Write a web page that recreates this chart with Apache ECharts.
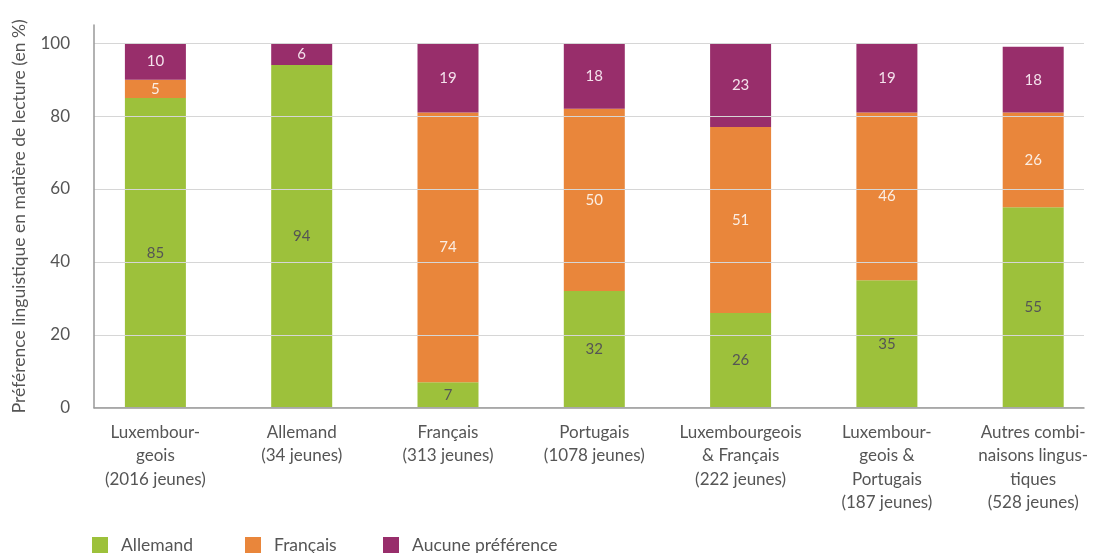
<!DOCTYPE html>
<html>
<head>
<meta charset="utf-8">
<script src="https://cdn.jsdelivr.net/npm/echarts@6/dist/echarts.min.js"></script>
<style>
  html, body { margin: 0; padding: 0; background: #fff; }
  #chart { width: 1093px; height: 553px; }
</style>
</head>
<body>
<div id="chart"></div>
<script>
// Reading-language preference by language spoken at home (share in %)
const categories = [
  'Luxembour-\ngeois\n(2016 jeunes)',
  'Allemand\n(34 jeunes)',
  'Français\n(313 jeunes)',
  'Portugais\n(1078 jeunes)',
  'Luxembourgeois\n& Français\n(222 jeunes)',
  'Luxembour-\ngeois &\nPortugais\n(187 jeunes)',
  'Autres combi-\nnaisons lingus-\ntiques\n(528 jeunes)'
];
const allemand = [85, 94, 7, 32, 26, 35, 55];
const francais = [5, 0, 74, 50, 51, 46, 26];
const aucune = [10, 6, 19, 18, 23, 19, 18];
const yTicks = [0, 20, 40, 60, 80, 100];

const FONT = 'Lato, "Noto Sans", sans-serif';
const GREEN = '#9dc13b', ORANGE = '#e9863b', PURPLE = '#982e6b';

const chart = echarts.init(document.getElementById('chart'), null, { renderer: 'canvas' });

function segment(name, data, color, labelColor) {
  return {
    name, type: 'bar', stack: 'total', xAxisIndex: 1, yAxisIndex: 1,
    barWidth: 61,
    data,
    itemStyle: { color },
    label: {
      show: true, position: 'inside', color: labelColor,
      fontFamily: FONT, fontSize: 15,
      formatter: p => (p.value ? p.value : '')
    }
  };
}

function legendAt(left, name) {
  return {
    left, top: 536, padding: 0, itemWidth: 16, itemHeight: 16, itemGap: 0,
    icon: 'rect', data: [name], selectedMode: false,
    textStyle: { color: '#555', fontFamily: FONT, fontSize: 17.5, padding: [0, 0, 0, 8] }
  };
}

chart.setOption({
  animation: false,
  legend: [legendAt(92, 'Allemand'), legendAt(245, 'Français'), legendAt(383, 'Aucune préférence')],
  grid: [
    // frame, gridlines and value labels
    { left: 94, right: 9, top: 25, bottom: 145.3 },
    // bars: one category per tick
    { left: 155.4, right: 59.8, top: 25, bottom: 145.3 }
  ],
  xAxis: [
    {
      gridIndex: 0, type: 'category', data: categories, z: 10,
      axisLine: { lineStyle: { color: '#999', width: 1.5 } },
      axisTick: { show: false }, axisLabel: { show: false }
    },
    {
      gridIndex: 1, type: 'category', data: categories, boundaryGap: false,
      axisLine: { show: false }, axisTick: { show: false },
      axisLabel: {
        interval: 0, margin: 13, color: '#555',
        fontFamily: FONT, fontSize: 17, lineHeight: 23.5
      }
    }
  ],
  yAxis: [
    {
      gridIndex: 0, type: 'value', min: 0, max: 105, interval: 20, z: 10,
      name: 'Préférence linguistique en matière de lecture (en %)',
      nameLocation: 'middle', nameGap: 66,
      nameTextStyle: { color: '#555', fontFamily: FONT, fontSize: 17.5 },
      axisLine: { show: true, lineStyle: { color: '#999', width: 1.5 } },
      axisTick: { show: false },
      axisLabel: {
        margin: 24, color: '#555', fontFamily: FONT, fontSize: 17,
        showMaxLabel: false,
        formatter: v => (yTicks.includes(v) ? String(v) : '')
      },
      splitLine: { show: true, showMaxLine: false, lineStyle: { color: '#d6d6d6', width: 1 } }
    },
    {
      gridIndex: 1, type: 'value', min: 0, max: 105, show: false,
      splitLine: { show: false }
    }
  ],
  series: [
    segment('Allemand', allemand, GREEN, '#555'),
    segment('Français', francais, ORANGE, '#fbeee4'),
    segment('Aucune préférence', aucune, PURPLE, '#f4e2ec')
  ]
});
</script>
</body>
</html>
